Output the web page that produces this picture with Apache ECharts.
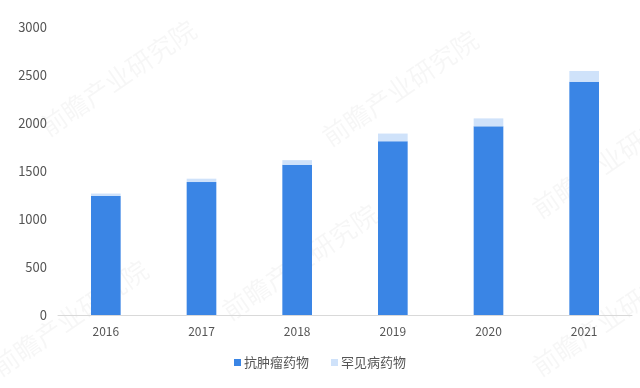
<!DOCTYPE html>
<html>
<head>
<meta charset="utf-8">
<script src="https://cdn.jsdelivr.net/npm/echarts@6/dist/echarts.min.js"></script>
<style>
  html, body { margin: 0; padding: 0; background: #fff; }
  #chart { width: 640px; height: 388px; }
</style>
</head>
<body>
<div id="chart"></div>
<script>
// Years on the category axis
const years = ['2016', '2017', '2018', '2019', '2020', '2021'];
// Anti-tumour drugs (bottom segment)
const antiTumor = [1240, 1385, 1565, 1810, 1965, 2430];
// Rare-disease drugs (stacked on top)
const rareDisease = [25, 35, 48, 80, 83, 112];
// Value-axis ticks
const yTicks = { min: 0, max: 3000, interval: 500 };

const seriesNames = ['抗肿瘤药物', '罕见病药物'];
const colors = ['#3a85e5', '#cfe2fa'];
const font = '"Noto Sans CJK SC", "Noto Sans", sans-serif';

// Faint diagonal watermark text
const wmSpots = [[400, 88], [300, 262], [118, 78], [610, 160], [70, 318], [610, 318]];
const watermarks = wmSpots.map(p => ({
  type: 'text',
  x: p[0], y: p[1],
  rotation: 0.6,
  z: -1,
  style: {
    text: '前瞻产业研究院',
    fill: 'rgba(0,0,0,0.035)',
    font: '26px ' + font,
    textAlign: 'center',
    textVerticalAlign: 'middle'
  }
}));

const chart = echarts.init(document.getElementById('chart'), null, { renderer: 'canvas' });
chart.setOption({
  animation: false,
  backgroundColor: '#ffffff',
  color: colors,
  graphic: watermarks,
  grid: { left: 58, right: 8, top: 27, bottom: 73, containLabel: false },
  legend: {
    data: seriesNames,
    bottom: 14,
    left: 'center',
    itemWidth: 7,
    itemHeight: 7,
    itemGap: 22,
    icon: 'rect',
    textStyle: { color: '#555555', fontSize: 13, fontFamily: font, padding: [0, 0, 0, -2] }
  },
  xAxis: {
    type: 'category',
    data: years,
    axisLine: { lineStyle: { color: '#d9d9d9', width: 1 } },
    axisTick: { show: false },
    axisLabel: { color: '#555555', fontSize: 12, fontFamily: font, margin: 10 }
  },
  yAxis: {
    type: 'value',
    min: yTicks.min,
    max: yTicks.max,
    interval: yTicks.interval,
    axisLine: { show: false },
    axisTick: { show: false },
    splitLine: { show: false },
    axisLabel: {
      color: '#555555', fontSize: 13, fontFamily: font, margin: 11,
      formatter: v => String(v)
    }
  },
  series: [
    {
      name: seriesNames[0],
      type: 'bar',
      stack: 'total',
      barWidth: '31%',
      data: antiTumor,
      itemStyle: { color: colors[0] }
    },
    {
      name: seriesNames[1],
      type: 'bar',
      stack: 'total',
      barWidth: '31%',
      data: rareDisease,
      itemStyle: { color: colors[1] }
    }
  ]
});
</script>
</body>
</html>
